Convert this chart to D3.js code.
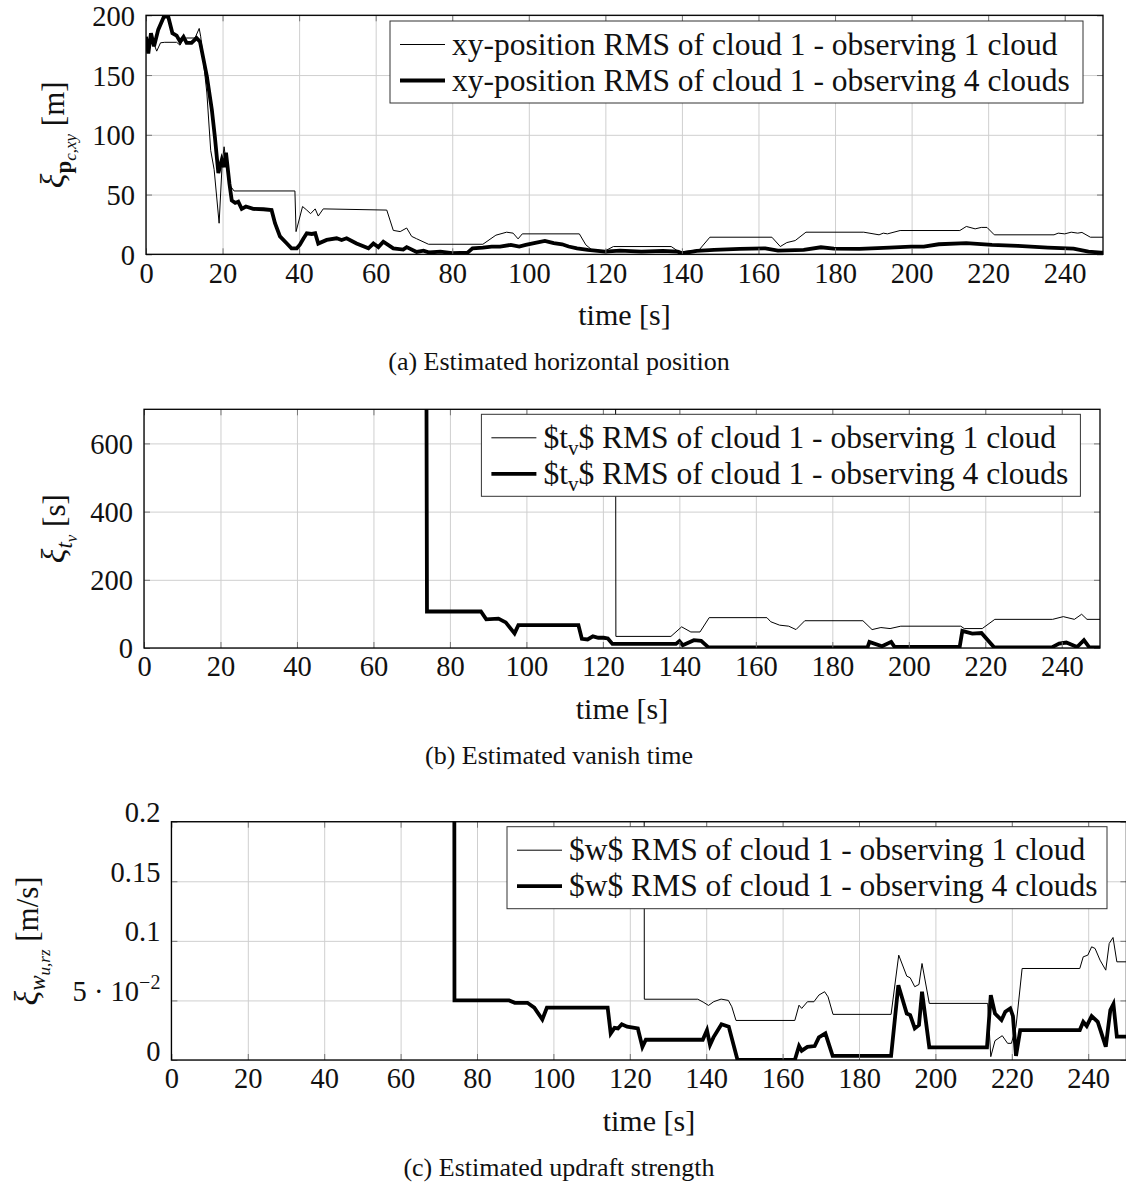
<!DOCTYPE html>
<html>
<head>
<meta charset="utf-8">
<script src="https://cdn.jsdelivr.net/npm/d3@7"></script>
<style>
  body { margin: 0; background: #fff; }
  svg { display: block; font-family: "Liberation Serif", "Times New Roman", serif; }
</style>
</head>
<body>
<svg id="chart" width="1126" height="1189"></svg>
<script>
// ---- tick values ----
const timeTicks = [0, 20, 40, 60, 80, 100, 120, 140, 160, 180, 200, 220, 240];
const posTicks = [0, 50, 100, 150, 200];
const vanishTicks = [0, 200, 400, 600];
const updraftTicks = [0, 0.05, 0.1, 0.15, 0.2];

// ---- (a) horizontal position RMS [m], pairs of [time s, value] ----
const posOneCloud = [
  [0,177],[0.6,171],[1.5,181],[2.8,170],[3.8,177],[4.9,177.4],[8.0,177.4],[8.9,175],[9.6,179],
  [10.6,181],[12.8,181],[13.9,189],[14.3,182],[15.9,135],[16.9,87],[17.8,71],[19.1,26],[19.9,76],
  [20.4,90],[21.3,68],[22.1,57],[23.0,53],[38.9,53],[39.2,19],[40.9,40],[42.0,37],[43.0,34],
  [44.2,38],[45.0,32],[46.3,38],[62.9,37],[64.6,20],[66.4,19],[68.1,22],[69.4,15],[70.7,13],
  [73.8,8.4],[88.0,8.4],[91.4,16],[94.2,18.5],[95.9,17.7],[97.2,12.9],[98.3,17.1],[113.2,17.1],
  [114.9,7.9],[116.5,3.7],[119.9,2.8],[122.1,6.5],[137.2,6.5],[138.9,2.8],[140.0,2.2],[144.5,3.7],
  [147.3,14.3],[163.5,14.3],[165.7,6.5],[167.4,9.8],[169.6,11.5],[172.4,18.5],[187.5,18.5],
  [191.5,16.3],[192.6,17.7],[193.7,17.1],[197.0,19.9],[212.6,19.9],[214.3,23.3],[216.6,21.3],
  [218.2,22.5],[219.7,22.5],[221.6,16.3],[237.2,16.3],[238.3,17.7],[240.0,17.1],[241.7,18.5],
  [243.4,17.7],[244.5,18.3],[246.7,14.3],[250,14.3]
];
const posFourClouds = [
  [0,182],[0.6,168],[1.3,185],[2.1,174],[3.2,188],[4.7,199],[5.8,199],[6.9,185],[8,183],[8.9,178],
  [9.8,182],[10.6,177],[11.9,177],[13.2,181],[14.1,178],[15.9,149],[17.2,121],[18,98],[18.9,68],
  [19.8,79],[20.4,73],[20.9,85],[21.8,59],[22.4,45],[23.3,43],[24.1,44],[25,38],[26.1,40],[28,38],
  [30.7,37.7],[32.8,37],[33.7,26],[35,15],[36.8,9],[38,5],[39.4,5],[40.2,8],[41.1,13],[42,17.6],
  [43.3,17],[44.2,17.6],[45,9],[47.2,12],[49.8,13.4],[51.1,12],[52.4,13.4],[55,9],[58.1,5],[59.4,9],
  [60.7,6],[62,10.6],[64.6,5],[67.2,4],[68.1,6],[70.7,2],[72.5,3],[74,1.5],[76.9,2.2],[80,1],
  [84,1.4],[85.3,5],[88,5.6],[90.3,6.5],[92.5,6.5],[95.3,7.9],[97.5,6.5],[99.2,7.9],[102,9.8],
  [104.2,11.2],[106.5,9.3],[108.7,8.4],[110.4,6.5],[112.6,5],[115.4,3.7],[119.9,2.2],[123.8,3.1],
  [129.4,2.2],[135,2.8],[138.9,2.2],[140,0.8],[143.9,2.8],[148.4,3.7],[155.1,4.5],[161.8,5],
  [165.1,3.1],[171.8,3.7],[176.3,5.9],[179.7,4.8],[186.4,4.5],[194.2,5.6],[199.8,6.5],[203.2,6.5],
  [207.1,8.4],[214.3,9.3],[221,7.9],[227.8,7],[235.6,5.6],[242.3,4.8],[246.2,2.2],[249.5,1.4],[250,1.4]
];

// ---- (b) vanish time RMS [s] ----
const vanishOneCloud = [
  [123.2,2000],[123.4,34],[137.8,34],[140.6,62],[143,47],[145.4,47],[147.8,89],[162.9,89],
  [163.9,77],[166.2,67],[168.6,64],[170.5,54],[172.8,80],[188,80],[190.4,54],[192.7,60],
  [195.1,57],[197.9,64],[213.6,64],[214.5,57],[219.2,57],[222.5,84],[237.6,84],[240.4,92],
  [243.3,84],[245.2,99],[246.6,84],[250,84]
];
const vanishFourClouds = [
  [73.6,2000],[74,107],[88.1,107],[89.5,84],[92.7,86],[94.6,75],[96.9,43],[97.9,67],[113.6,67],
  [114.5,27],[116,25],[117.4,34],[118.8,30],[120.2,30],[121.3,28],[122.5,12],[139.1,12],[140,20],
  [140.9,8],[143.8,23],[145.7,21],[147.6,2],[189.2,2],[189.7,18],[193,5],[195.4,18],[196.3,3],
  [213.3,3],[214,50],[216.6,42],[219,44],[222.3,2],[237.4,2],[239.3,13],[241.2,16],[244,3],
  [245.8,23],[247.2,2],[250,2]
];

// ---- (c) updraft strength RMS [m/s] ----
const updraftOneCloud = [
  [123.6,1],[123.8,0.051],[137.8,0.051],[139.2,0.0486],[140.6,0.0458],[142,0.049],[143.9,0.0511],
  [145.8,0.05],[146.7,0.0447],[147.8,0.0332],[163.2,0.0332],[164.3,0.046],[165,0.0433],
  [166.5,0.0489],[168.2,0.0489],[169.5,0.0545],[171,0.0573],[171.9,0.053],[173.2,0.0383],
  [188.4,0.0383],[190.4,0.088],[192.5,0.0704],[193.4,0.069],[194.6,0.0615],[195.7,0.0634],
  [196.5,0.081],[198.4,0.0475],[213.7,0.0475],[214.5,0.0028],[215.6,0.0162],[217.5,0.0204],
  [218.9,0.014],[219.9,0.014],[221.1,0.028],[222.7,0.0768],[237.8,0.0768],[238.7,0.0866],
  [239.9,0.088],[240.9,0.095],[241.8,0.0936],[243.1,0.0838],[244.6,0.0754],[245.5,0.0978],
  [246.5,0.1028],[247.5,0.0824],[250,0.0824]
];
const updraftFourClouds = [
  [73.9,1],[74.1,0.05],[88.4,0.05],[89.9,0.048],[93.2,0.048],[95,0.044],[97.1,0.034],[98.3,0.044],
  [114.2,0.044],[115,0.0223],[116,0.027],[116.9,0.0265],[117.9,0.03],[119.3,0.028],[122.1,0.0265],
  [123.3,0.011],[124.2,0.017],[139.1,0.017],[140.2,0.025],[141,0.0126],[141.9,0.019],[144,0.03],
  [145.9,0.028],[148.2,0],[163.2,0],[164.3,0.0117],[165,0.0078],[166.5,0.011],[168.4,0.0117],
  [169.5,0.019],[171.2,0.0223],[173.1,0.0034],[188.4,0.0034],[190.3,0.0628],[192.5,0.039],
  [193.4,0.0377],[194.6,0.0265],[195.7,0.0293],[196.5,0.0573],[198.4,0.0106],[213.5,0.0106],
  [214.5,0.0545],[215.6,0.039],[217.3,0.0335],[218.3,0.0405],[219.6,0.0433],[220.3,0.0369],
  [221.1,0.0034],[222.2,0.0251],[237.8,0.0251],[238.7,0.032],[239.6,0.0285],[240.9,0.0369],
  [242.5,0.032],[244.6,0.0112],[245.8,0.042],[246.6,0.047],[247.5,0.0196],[250,0.0196]
];

// ---- texts ----
const posLegend = [
  [{ t: "xy-position RMS of cloud 1 - observing 1 cloud" }],
  [{ t: "xy-position RMS of cloud 1 - observing 4 clouds" }]
];
const vanishLegend = [
  [{ t: "$t" }, { t: "v", size: 21, shift: 7 }, { t: "$ RMS of cloud 1 - observing 1 cloud" }],
  [{ t: "$t" }, { t: "v", size: 21, shift: 7 }, { t: "$ RMS of cloud 1 - observing 4 clouds" }]
];
const updraftLegend = [
  [{ t: "$w$ RMS of cloud 1 - observing 1 cloud" }],
  [{ t: "$w$ RMS of cloud 1 - observing 4 clouds" }]
];
const posAxisTitle = [
  { t: "ξ", italic: true, size: 34 }, { t: "p", size: 23, shift: 7, bold: true },
  { t: "c,xy", size: 17, shift: 12, italic: true }, { t: " [m]" }
];
const vanishAxisTitle = [
  { t: "ξ", italic: true, size: 34 }, { t: "t", size: 23, shift: 7, italic: true },
  { t: "v", size: 17, shift: 12, italic: true }, { t: " [s]" }
];
const updraftAxisTitle = [
  { t: "ξ", italic: true, size: 34 }, { t: "w", size: 23, shift: 7, italic: true },
  { t: "u,rz", size: 17, shift: 12, italic: true }, { t: " [m/s]" }
];
const updraftTickLabels = {
  0: [{ t: "0" }], 0.05: [{ t: "5 · 10" }, { t: "−2", size: 20, shift: -12 }],
  0.1: [{ t: "0.1" }], 0.15: [{ t: "0.15" }], 0.2: [{ t: "0.2" }]
};
const timeLabel = "time [s]";

// ---- layout of the three panels ----
const panels = [
  { key: "a", left: 146, right: 1103, top: 15.3, bottom: 254.3, yMax: 200, yTicks: posTicks,
    lines: [posOneCloud, posFourClouds], legend: posLegend,
    box: { x: 390, y: 21, w: 693, h: 82 }, title: posAxisTitle, titleX: 64,
    caption: "(a) Estimated horizontal position" },
  { key: "b", left: 144, right: 1100, top: 409.3, bottom: 648, yMax: 700, yTicks: vanishTicks,
    lines: [vanishOneCloud, vanishFourClouds], legend: vanishLegend,
    box: { x: 481.4, y: 414.3, w: 599, h: 82 }, title: vanishAxisTitle, titleX: 65,
    caption: "(b) Estimated vanish time" },
  { key: "c", left: 171.4, right: 1126.4, top: 821.7, bottom: 1060, yMax: 0.2, yTicks: updraftTicks,
    lines: [updraftOneCloud, updraftFourClouds], legend: updraftLegend,
    box: { x: 507, y: 826.7, w: 600, h: 82 }, title: updraftAxisTitle, titleX: 38,
    tickLabels: updraftTickLabels, caption: "(c) Estimated updraft strength" }
];

const TICK_FONT = 28.5;
const LEGEND_FONT = 31.5;
const TITLE_FONT = 31;
const lineWidths = [1, 3.8];
const svg = d3.select("#chart");

function richText(sel, segs, baseSize) {
  let prev = 0;
  segs.forEach(s => {
    const sh = s.shift || 0;
    sel.append("tspan")
      .text(s.t)
      .attr("font-size", s.size || baseSize)
      .attr("font-style", s.italic ? "italic" : null)
      .attr("font-weight", s.bold ? "bold" : null)
      .attr("dy", sh - prev);
    prev = sh;
  });
}

panels.forEach(p => {
  const x = d3.scaleLinear().domain([0, 250]).range([p.left, p.right]);
  const y = d3.scaleLinear().domain([0, p.yMax]).range([p.bottom, p.top]);
  const w = p.right - p.left, h = p.bottom - p.top;
  const g = svg.append("g").attr("class", "panel-" + p.key);

  // grid
  g.append("g").attr("transform", `translate(0,${p.bottom})`)
    .call(d3.axisBottom(x).tickValues(timeTicks).tickSize(-h).tickFormat(""))
    .call(a => a.select(".domain").remove())
    .selectAll("line").attr("stroke", "#cfcfcf").attr("stroke-width", 1);
  g.append("g").attr("transform", `translate(${p.left},0)`)
    .call(d3.axisLeft(y).tickValues(p.yTicks).tickSize(-w).tickFormat(""))
    .call(a => a.select(".domain").remove())
    .selectAll("line").attr("stroke", "#cfcfcf").attr("stroke-width", 1);

  // data lines, clipped to the plot frame
  const clipId = "clip-" + p.key;
  g.append("clipPath").attr("id", clipId)
    .append("rect").attr("x", p.left).attr("y", p.top).attr("width", w).attr("height", h);
  const line = d3.line().x(d => x(d[0])).y(d => y(d[1]));
  const lg = g.append("g").attr("clip-path", `url(#${clipId})`);
  p.lines.forEach((series, i) => {
    lg.append("path").datum(series)
      .attr("d", line)
      .attr("fill", "none")
      .attr("stroke", "#000")
      .attr("stroke-width", lineWidths[i])
      .attr("stroke-linejoin", "miter");
  });

  // tick marks on all four sides (inward) and tick labels
  const tickStyle = a => {
    a.attr("font-family", null).attr("font-size", null);
    a.select(".domain").remove();
    a.selectAll("line").attr("stroke", "#777").attr("stroke-width", 1);
    a.selectAll("text").attr("font-size", TICK_FONT).attr("fill", "#111");
  };
  g.append("g").attr("transform", `translate(0,${p.bottom})`)
    .call(d3.axisBottom(x).tickValues(timeTicks).tickSize(-6).tickPadding(8).tickFormat(d3.format("d")))
    .call(tickStyle);
  g.append("g").attr("transform", `translate(0,${p.top})`)
    .call(d3.axisTop(x).tickValues(timeTicks).tickSize(-6).tickFormat(""))
    .call(tickStyle);
  const yAxis = g.append("g").attr("transform", `translate(${p.left},0)`)
    .call(d3.axisLeft(y).tickValues(p.yTicks).tickSize(-6).tickPadding(11)
      .tickFormat(p.tickLabels ? () => "" : d3.format("d")))
    .call(tickStyle);
  yAxis.selectAll(".tick text").attr("dy", "0.35em");
  if (p.tickLabels) {
    yAxis.selectAll(".tick text").each(function (d) {
      richText(d3.select(this), p.tickLabels[d], TICK_FONT);
    });
  }
  g.append("g").attr("transform", `translate(${p.right},0)`)
    .call(d3.axisRight(y).tickValues(p.yTicks).tickSize(-6).tickFormat(""))
    .call(tickStyle);

  // frame
  g.append("rect").attr("x", p.left).attr("y", p.top).attr("width", w).attr("height", h)
    .attr("fill", "none").attr("stroke", "#000").attr("stroke-width", 1.3);

  // legend
  const b = p.box;
  const leg = g.append("g");
  leg.append("rect").attr("x", b.x).attr("y", b.y).attr("width", b.w).attr("height", b.h)
    .attr("fill", "#fff").attr("stroke", "#333").attr("stroke-width", 1);
  p.legend.forEach((segs, i) => {
    const cy = b.y + 23.5 + i * 36;
    leg.append("line").attr("x1", b.x + 10).attr("x2", b.x + 55)
      .attr("y1", cy).attr("y2", cy)
      .attr("stroke", "#000").attr("stroke-width", lineWidths[i]);
    const t = leg.append("text").attr("x", b.x + 62).attr("y", cy + 10)
      .attr("font-size", LEGEND_FONT).attr("fill", "#111");
    richText(t, segs, LEGEND_FONT);
  });

  // y-axis title (rotated)
  const yt = g.append("text")
    .attr("transform", `translate(${p.titleX},${(p.top + p.bottom) / 2}) rotate(-90)`)
    .attr("text-anchor", "middle").attr("font-size", TITLE_FONT).attr("fill", "#111");
  richText(yt, p.title, TITLE_FONT);

  // x-axis title and caption
  g.append("text").attr("x", (p.left + p.right) / 2).attr("y", p.bottom + 70.7)
    .attr("text-anchor", "middle").attr("font-size", 30).attr("fill", "#111").text(timeLabel);
  g.append("text").attr("x", 559).attr("y", p.bottom + 115.5)
    .attr("text-anchor", "middle").attr("font-size", 26).attr("fill", "#111").text(p.caption);
});
</script>
</body>
</html>
